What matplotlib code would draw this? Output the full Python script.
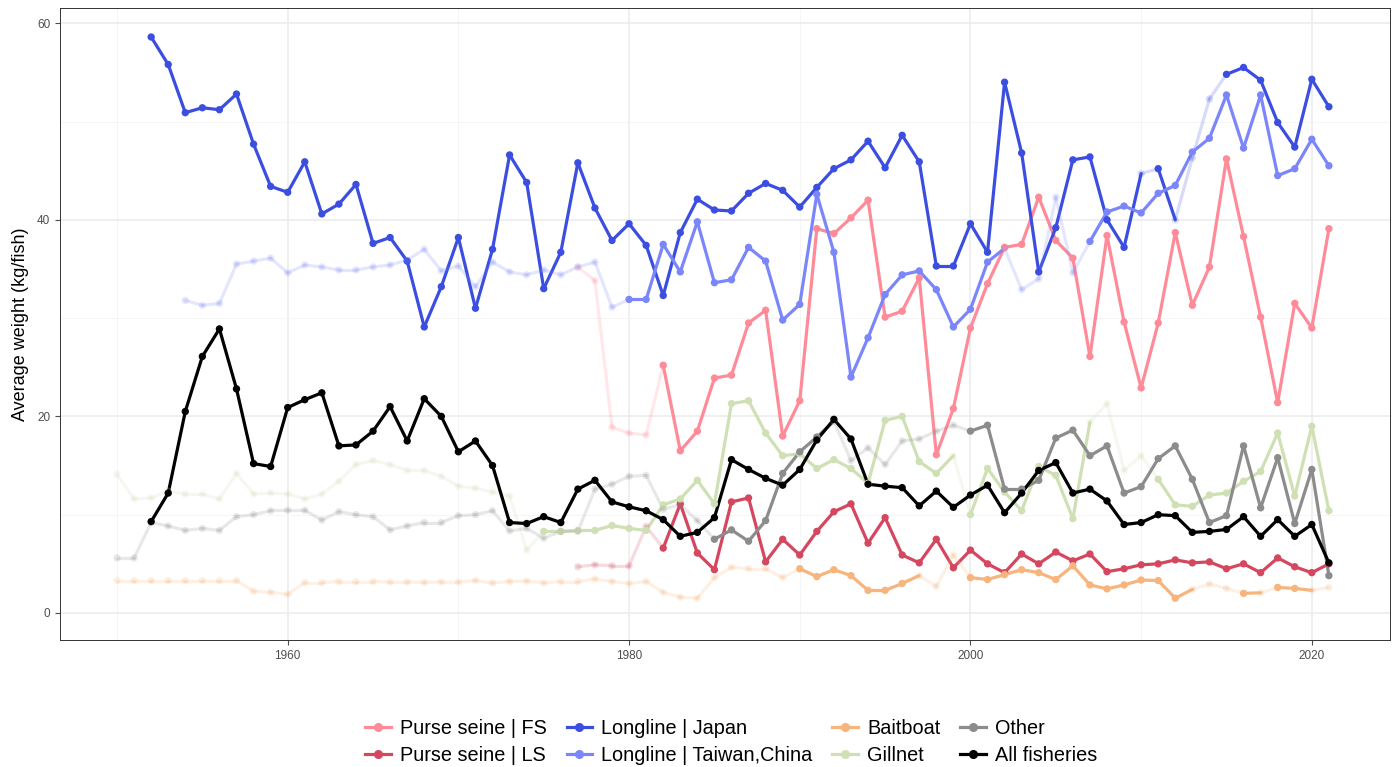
import matplotlib
matplotlib.use("Agg")
import matplotlib.pyplot as plt
from matplotlib.collections import LineCollection
from matplotlib.lines import Line2D
from matplotlib.colors import to_rgba
import numpy as np

plt.rcParams['font.family'] = ['Liberation Sans', 'DejaVu Sans']

# ---------------- data ----------------
series_names = ["Purse seine | FS", "Purse seine | LS", "Longline | Japan",
                "Longline | Taiwan,China", "Baitboat", "Gillnet", "Other", "All fisheries"]

fs_start = 1977
fs_values = [35.2, 33.8, 18.9, 18.3, 18.1, 25.2, 16.5, 18.5, 23.9, 24.2, 29.5, 30.8, 18.0, 21.6,
             39.1, 38.6, 40.2, 42.0, 30.1, 30.7, 34.1, 16.1, 20.8, 29.0, 33.5, 37.2, 37.5, 42.3,
             37.9, 36.1, 26.1, 38.4, 29.6, 22.9, 29.5, 38.7, 31.3, 35.2, 46.2, 38.3, 30.1, 21.4,
             31.5, 29.0, 39.1]
fs_low = [1977, 1978, 1979, 1980, 1981]

ls_start = 1977
ls_values = [4.7, 4.9, 4.8, 4.8, 8.8, 6.6, 11.1, 6.1, 4.4, 11.3, 11.7, 5.2, 7.5, 5.9, 8.3, 10.3,
             11.1, 7.1, 9.7, 5.9, 5.1, 7.5, 4.6, 6.4, 5.0, 4.1, 6.0, 5.0, 6.2, 5.3, 6.0, 4.2, 4.5,
             4.9, 5.0, 5.4, 5.1, 5.2, 4.5, 5.0, 4.1, 5.6, 4.7, 4.1, 5.0]
ls_low = [1977, 1978, 1979, 1980, 1981]

jp_start = 1952
jp_values = [58.6, 55.8, 50.9, 51.4, 51.2, 52.8, 47.7, 43.4, 42.8, 45.9, 40.6, 41.6, 43.6, 37.6,
             38.2, 35.8, 29.1, 33.2, 38.2, 31.0, 37.0, 46.6, 43.8, 33.0, 36.7, 45.8, 41.2, 37.9,
             39.6, 37.4, 32.3, 38.7, 42.1, 41.0, 40.9, 42.7, 43.7, 43.0, 41.3, 43.3, 45.2, 46.1,
             48.0, 45.3, 48.6, 45.9, 35.3, 35.3, 39.6, 36.7, 54.0, 46.8, 34.7, 39.2, 46.1, 46.4,
             40.0, 37.2, 44.7, 45.2, 40.0, 46.3, 52.3, 54.8, 55.5, 54.2, 49.9, 47.4, 54.3, 51.5]
jp_low = [2010, 2012, 2013, 2014]

tw_start = 1954
tw_values = [31.8, 31.3, 31.5, 35.5, 35.8, 36.1, 34.6, 35.4, 35.2, 34.9, 34.9, 35.2, 35.4, 35.9,
             37.0, 34.8, 35.3, 33.2, 35.7, 34.7, 34.4, 34.9, 34.4, 35.2, 35.7, 31.1, 31.9, 31.9,
             37.5, 34.7, 39.8, 33.6, 33.9, 37.2, 35.8, 29.8, 31.4, 42.6, 36.7, 24.0, 28.0, 32.4,
             34.4, 34.8, 32.9, 29.1, 30.9, 35.7, 37.1, 32.9, 34.0, 42.3, 34.6, 37.8, 40.8, 41.4,
             40.7, 42.7, 43.5, 46.9, 48.3, 52.7, 47.3, 52.7, 44.5, 45.2, 48.2, 45.5]
tw_low = list(range(1954, 1980)) + [2002, 2003, 2004, 2005, 2006]

bb_start = 1950
bb_values = [3.3, 3.3, 3.3, 3.3, 3.3, 3.3, 3.3, 3.3, 2.2, 2.1, 1.9, 3.1, 3.1, 3.2, 3.2, 3.2, 3.15,
             3.15, 3.1, 3.15, 3.15, 3.3, 3.05, 3.2, 3.25, 3.05, 3.2, 3.2, 3.45, 3.2, 3.0, 3.2, 2.1,
             1.6, 1.5, 3.6, 4.65, 4.5, 4.5, 3.6, 4.5, 3.7, 4.4, 3.8, 2.3, 2.3, 3.0, 3.8, 2.7, 5.9,
             3.6, 3.4, 3.9, 4.4, 4.1, 3.4, 4.8, 2.85, 2.45, 2.85, 3.35, 3.3, 1.5, 2.4, 2.95, 2.5,
             2.0, 2.05, 2.6, 2.5, 2.3, 2.6]
bb_low = list(range(1950, 1990)) + [1997, 1998, 1999, 2013, 2014, 2015, 2017, 2020, 2021]

gn_start = 1950
gn_values = [14.1, 11.6, 11.7, 12.4, 12.1, 12.1, 11.6, 14.2, 12.1, 12.2, 12.1, 11.6, 12.1, 13.4,
             15.1, 15.5, 15.1, 14.5, 14.5, 13.9, 12.9, 12.7, 12.3, 11.9, 6.4, 8.3, 8.3, 8.4, 8.4,
             8.9, 8.6, 8.4, 11.0, 11.6, 13.5, 11.1, 21.3, 21.6, 18.3, 16.0, 16.2, 14.7, 15.6, 14.7,
             13.2, 19.6, 20.0, 15.4, 14.2, 16.0, 10.0, 14.7, 12.3, 10.4, 14.9, 14.0, 9.6, 19.4,
             21.3, 14.5, 16.0, 13.6, 11.0, 10.85, 12.0, 12.2, 13.4, 14.4, 18.3, 11.9, 19.0, 10.4]
gn_low = list(range(1950, 1975)) + [1999, 2007, 2008, 2009, 2010]

ot_start = 1950
ot_values = [5.6, 5.6, 9.2, 8.85, 8.4, 8.6, 8.4, 9.8, 10.0, 10.4, 10.45, 10.45, 9.45, 10.3, 10.0,
             9.8, 8.45, 8.85, 9.2, 9.2, 9.9, 10.0, 10.4, 8.35, 8.6, 7.6, 8.3, 8.3, 12.6, 13.1, 13.9,
             14.0, 10.55, 11.0, 9.4, 7.5, 8.45, 7.3, 9.4, 14.2, 16.4, 17.9, 19.5, 15.5, 16.8, 15.1,
             17.5, 17.7, 18.5, 19.1, 18.5, 19.1, 12.6, 12.6, 13.5, 17.8, 18.6, 16.0, 17.0, 12.2,
             12.85, 15.7, 17.0, 13.6, 9.2, 9.9, 17.0, 10.7, 15.8, 9.1, 14.6, 3.8]
ot_low = list(range(1950, 1985)) + list(range(1992, 2000))

all_start = 1952
all_values = [9.3, 12.2, 20.5, 26.1, 28.9, 22.8, 15.2, 14.9, 20.9, 21.7, 22.4, 17.0, 17.1, 18.5,
              21.0, 17.5, 21.8, 20.0, 16.4, 17.5, 15.0, 9.2, 9.1, 9.8, 9.2, 12.6, 13.5, 11.3,
              10.8, 10.4, 9.5, 7.8, 8.2, 9.7, 15.6, 14.6, 13.7, 13.0, 14.6, 17.6, 19.7, 17.7,
              13.1, 12.9, 12.75, 10.9, 12.4, 10.75, 12.0, 13.0, 10.2, 12.2, 14.5, 15.3, 12.2,
              12.6, 11.4, 9.0, 9.2, 10.0, 9.9, 8.2, 8.3, 8.5, 9.8, 7.8, 9.5, 7.8, 9.0, 5.1]
all_low = []

x_ticks = [1960, 1980, 2000, 2020]
y_ticks = [0, 20, 40, 60]

# ---------------- styles ----------------
colors = ["#FF8A98", "#D4475F", "#3B4EE0", "#7B86FA", "#F7B47C", "#CFE0B4", "#8C8C8C", "#000000"]
FADED = 0.2

series = [(fs_start, fs_values, fs_low), (ls_start, ls_values, ls_low),
          (jp_start, jp_values, jp_low), (tw_start, tw_values, tw_low),
          (bb_start, bb_values, bb_low), (gn_start, gn_values, gn_low),
          (ot_start, ot_values, ot_low), (all_start, all_values, all_low)]

W, H = 1398, 767
fig = plt.figure(figsize=(W / 100, H / 100), dpi=100)
ax = fig.add_axes([60 / W, 1 - 640 / H, 1330 / W, 632 / H])

for (start, vals, low), col in zip(series, colors):
    yrs = np.arange(start, start + len(vals))
    v = np.array(vals, dtype=float)
    alphas = np.array([FADED if y in low else 1.0 for y in yrs])
    segs = [[(yrs[i], v[i]), (yrs[i + 1], v[i + 1])] for i in range(len(yrs) - 1)]
    seg_cols = [to_rgba(col, a) for a in alphas[:-1]]
    lc = LineCollection(segs, colors=seg_cols, linewidths=2.3, capstyle='round', joinstyle='round')
    ax.add_collection(lc)
    pt_cols = [to_rgba(col, a) for a in alphas]
    ax.scatter(yrs, v, s=28, c=pt_cols, edgecolors='none', zorder=3)

ax.set_xlim(1946.66, 2024.58)
ax.set_ylim(-2.75, 61.55)
ax.set_xticks(x_ticks)
ax.set_yticks(y_ticks)
ax.set_xticks([1950, 1970, 1990, 2010], minor=True)
ax.set_yticks([10, 30, 50], minor=True)
ax.grid(which='major', color='#EBEBEB', linewidth=1.1)
ax.grid(which='minor', color='#F4F4F4', linewidth=0.6)
ax.set_axisbelow(True)
ax.tick_params(which='major', labelsize=8.5, colors='#4D4D4D', length=3.5, width=0.8)
ax.tick_params(which='minor', length=0)
for sp in ax.spines.values():
    sp.set_color('#333333')
    sp.set_linewidth(0.7)
ax.set_ylabel("Average weight (kg/fish)", fontsize=13, labelpad=6)

handles = [Line2D([0], [0], color=c, lw=2.3, marker='o', markersize=5.5) for c in colors]
fig.legend(handles, series_names, loc='center', bbox_to_anchor=(0.523, 1 - 742 / H), ncol=4,
           frameon=False, fontsize=14.3, handlelength=1.3, handletextpad=0.45,
           columnspacing=1.0, labelspacing=0.42, borderpad=0.2)

fig.savefig("out.png", dpi=100)
